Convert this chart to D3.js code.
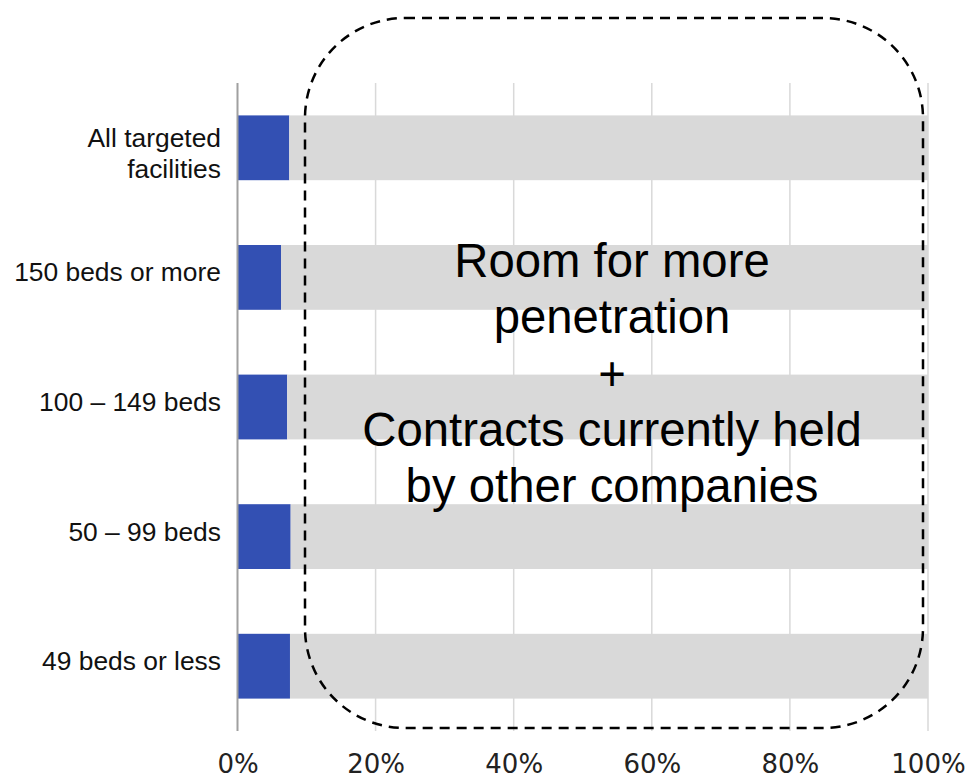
<!DOCTYPE html>
<html>
<head>
<meta charset="utf-8">
<script src="https://cdn.jsdelivr.net/npm/d3@7"></script>
<style>
  html, body { margin: 0; padding: 0; background: #ffffff; }
  svg { display: block; }
</style>
</head>
<body>
<svg id="chart" width="969" height="780"></svg>
<script>
// ---- Data ----
const categories = ["All targeted facilities", "150 beds or more", "100 – 149 beds", "50 – 99 beds", "49 beds or less"];
const categoryLabelLines = [["All targeted", "facilities"], ["150 beds or more"], ["100 – 149 beds"], ["50 – 99 beds"], ["49 beds or less"]];
const penetration = [7.5, 6.3, 7.2, 7.7, 7.6];
const remaining = [92.5, 93.7, 92.8, 92.3, 92.4];
const tickValues = [0, 20, 40, 60, 80, 100];
const tickLabels = ["0%", "20%", "40%", "60%", "80%", "100%"];
const annotationLines = ["Room for more", "penetration", "+", "Contracts currently held", "by other companies"];

// ---- Layout ----
const svg = d3.select("#chart");
const x = d3.scaleLinear().domain([0, 100]).range([237.5, 928]);
const y = d3.scaleBand().domain(categories).range([83, 731]).paddingInner(0.5).paddingOuter(0.25);

// grid lines
svg.append("g").selectAll("line")
  .data(tickValues.filter(d => d > 0))
  .join("line")
  .attr("x1", d => x(d)).attr("x2", d => x(d))
  .attr("y1", 83).attr("y2", 731)
  .attr("stroke", "#d9d9d9").attr("stroke-width", 1.5);

// stacked bars
const rows = categories.map((c, i) => ({ c, p: penetration[i], r: remaining[i] }));
const series = d3.stack().keys(["p", "r"])(rows);
const colors = { p: "#3350b3", r: "#d9d9d9" };
svg.append("g").selectAll("g")
  .data(series)
  .join("g")
  .attr("fill", s => colors[s.key])
  .selectAll("rect")
  .data(s => s)
  .join("rect")
  .attr("x", d => x(d[0]))
  .attr("width", d => x(d[1]) - x(d[0]))
  .attr("y", d => y(d.data.c))
  .attr("height", y.bandwidth());

// axis (vertical line at 0)
svg.append("line")
  .attr("x1", x(0)).attr("x2", x(0))
  .attr("y1", 83).attr("y2", 731)
  .attr("stroke", "#a0a0a0").attr("stroke-width", 2);

// x tick labels
const xAxis = d3.axisBottom(x).tickValues(tickValues).tickSize(0)
  .tickFormat((d, i) => tickLabels[i]);
const gx = svg.append("g").attr("transform", "translate(0,745)").call(xAxis);
gx.select(".domain").remove();
gx.selectAll("text")
  .attr("y", 0).attr("dy", "28px")
  .attr("font-family", "'DejaVu Sans', Verdana, sans-serif")
  .attr("font-size", 26).attr("fill", "#222");

// category labels
const lab = svg.append("g");
categories.forEach((c, i) => {
  const lines = categoryLabelLines[i];
  const cy = y(c) + y.bandwidth() / 2;
  const lh = 31.5;
  const base = lines.length > 1 ? cy - 1 : cy + 4;
  const t = lab.append("text")
    .attr("text-anchor", "end")
    .attr("font-family", "'Liberation Sans', Arial, sans-serif")
    .attr("font-size", 26.4)
    .attr("fill", "#111");
  lines.forEach((ln, j) => {
    t.append("tspan").attr("x", 221).attr("y", base + j * lh).text(ln);
  });
});

// annotation text
const ann = svg.append("text")
  .attr("text-anchor", "middle")
  .attr("font-family", "'Liberation Sans', Arial, sans-serif")
  .attr("font-size", 47.3)
  .attr("fill", "#000");
annotationLines.forEach((ln, j) => {
  ann.append("tspan").attr("x", 612).attr("y", 277 + j * 56.3).text(ln);
});

// dashed rounded rectangle
svg.append("rect")
  .attr("x", 305).attr("y", 18)
  .attr("width", 618).attr("height", 710)
  .attr("rx", 100).attr("ry", 100)
  .attr("fill", "none")
  .attr("stroke", "#000")
  .attr("stroke-width", 2.5)
  .attr("stroke-dasharray", "10,7");
</script>
</body>
</html>
